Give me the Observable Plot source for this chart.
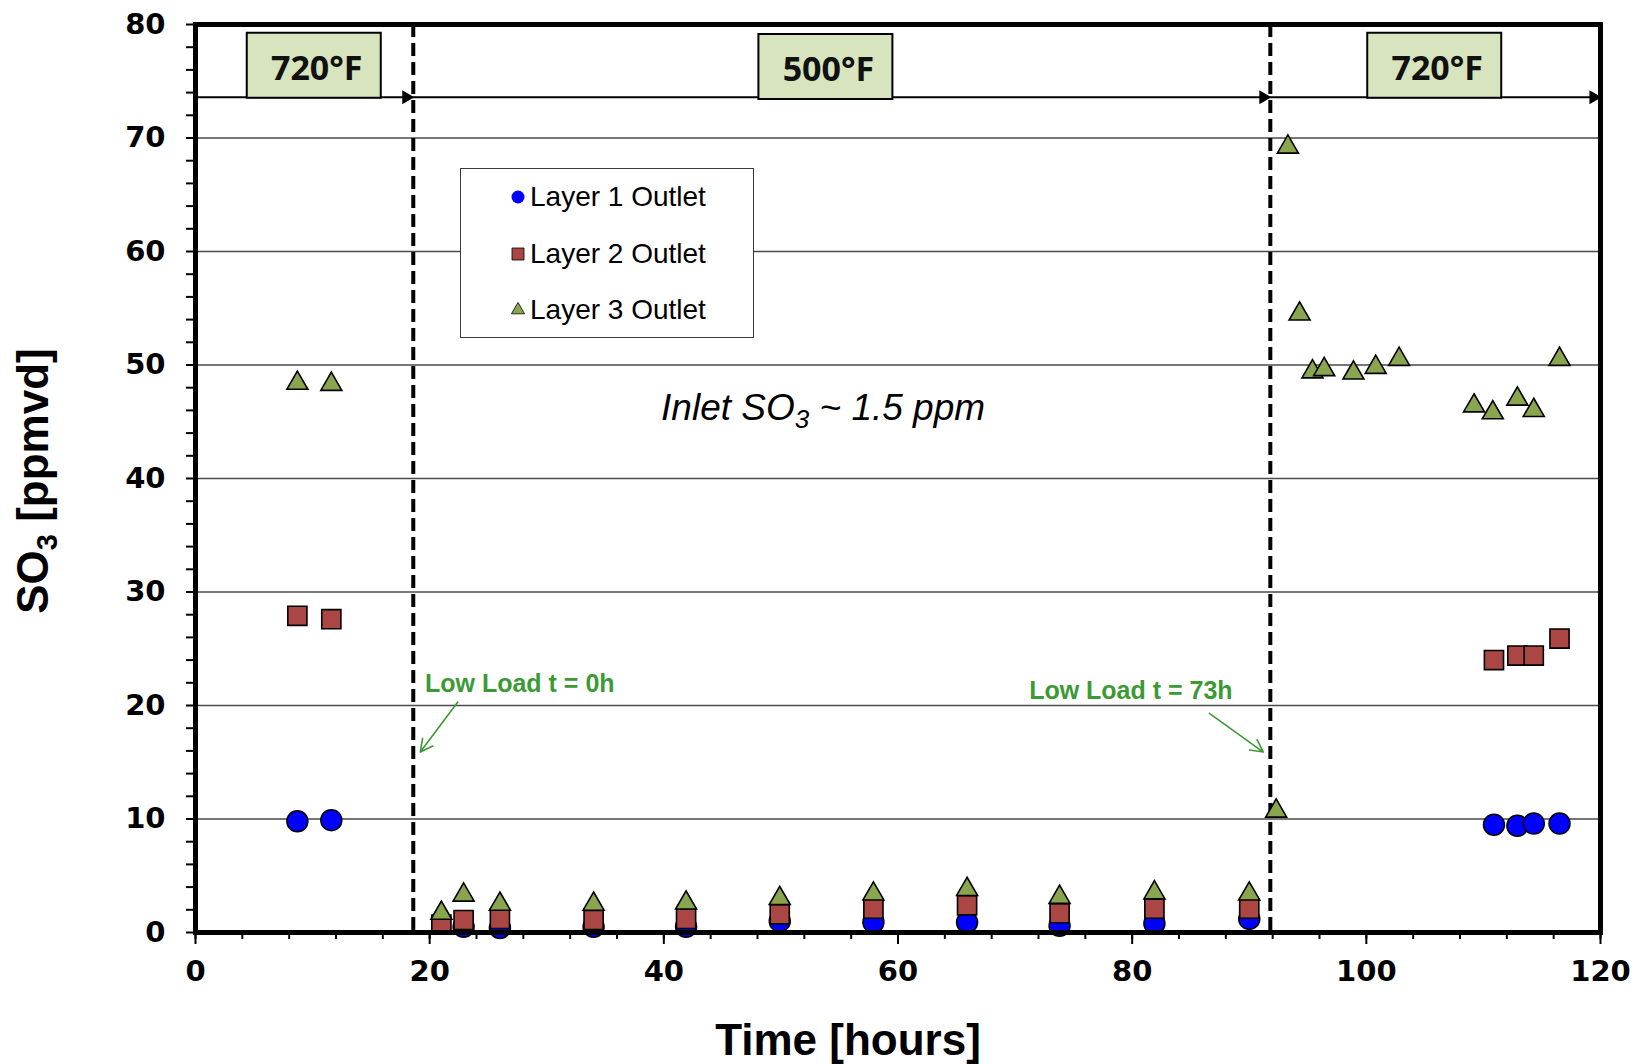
<!DOCTYPE html>
<html>
<head>
<meta charset="utf-8">
<script src="https://cdn.jsdelivr.net/npm/d3@7"></script>
<script src="https://cdn.jsdelivr.net/npm/@observablehq/plot@0.6"></script>
<style>
  body { margin: 0; background: #fff; }
  #wrap { position: relative; width: 1637px; height: 1064px; }
  #legend { position: absolute; left: 460px; top: 168px; width: 292px; height: 168px;
    border: 1px solid #3a3a3a; background: #fff;
    font-family: "Liberation Sans", Arial, sans-serif; font-size: 28px; color: #000; }
  .row { position: absolute; left: 48px; height: 30px; display: flex; align-items: center; }
  .row svg { margin-right: 3px; }
</style>
</head>
<body>
<div id="wrap"><div id="legend"></div></div>
<script>
// ---------- data ----------
const seriesNames = ["Layer 1 Outlet", "Layer 2 Outlet", "Layer 3 Outlet"];
const seriesColors = ["#0000FF", "#AA4643", "#89A54E"];
const seriesSymbols = ["circle", "square", "triangle"];

const timeL12 = [8.7, 11.6, 21.0, 22.9, 26.0, 34.0, 41.9, 49.9, 57.9, 65.9, 73.8, 81.9, 90.0, 110.9, 112.9, 114.3, 116.5];
const layer1  = [9.8, 9.9, null, 0.5, 0.4, 0.5, 0.5, 1.0, 0.9, 0.9, 0.6, 0.8, 1.2, 9.5, 9.4, 9.6, 9.6];
const layer2  = [27.9, 27.6, 0.7, 1.1, 1.2, 1.1, 1.2, 1.6, 2.1, 2.4, 1.7, 2.1, 2.1, 24.0, 24.4, 24.4, 25.9];

const timeL3 = [8.7, 11.6, 21.0, 22.9, 26.0, 34.0, 41.9, 49.9, 57.9, 65.9, 73.8, 81.9, 90.0,
                92.3, 93.3, 94.3, 95.4, 96.4, 98.9, 100.8, 102.8, 109.2, 110.8, 112.9, 114.3, 116.5];
const layer3 = [48.4, 48.3, 1.7, 3.3, 2.5, 2.5, 2.6, 3.0, 3.4, 3.8, 3.1, 3.5, 3.4,
                10.7, 69.2, 54.5, 49.4, 49.6, 49.3, 49.8, 50.5, 46.4, 45.8, 47.0, 46.0, 50.5];

const phaseBoundaries = [18.6, 91.8];
const arrowTips = [18.6, 91.8, 120];
const arrowLevel = 73.6;
const phaseLabels = ["720°F", "500°F", "720°F"];
const phaseLabelX = [10.1, 53.8, 105.8];
const phaseLabelY = [76.4, 76.3, 76.4];

const inletNote = {x: 53.6, y: 46.2, text: "Inlet SO3 ~ 1.5 ppm"};
const loadNotes = [
  {x: 19.6, y: 21.9, text: "Low Load t = 0h", ax1: 22.4, ay1: 20.3, ax2: 19.2, ay2: 15.9},
  {x: 71.2, y: 21.3, text: "Low Load t = 73h", ax1: 86.6, ay1: 19.3, ax2: 91.2, ay2: 15.9}
];

const yMajor = d3.range(0, 81, 10);
const yMinor = d3.range(0, 81, 2);
const xMajor = d3.range(0, 121, 20);
const xMinor = d3.range(0, 121, 4);
const gridLevels = d3.range(10, 71, 10);

// ---------- helpers ----------
const pts = (xs, ys) => xs.map((x, i) => ({x, y: ys[i]})).filter(d => d.y != null);
const boxSymbol = {draw(ctx) { ctx.rect(-67, -32.5, 134, 65); }};
const phases = phaseLabels.map((t, i) => ({t, x: phaseLabelX[i], y: phaseLabelY[i]}));
const green = "#3C9A34";

const chart = Plot.plot({
  width: 1637,
  height: 1064,
  marginLeft: 195,
  marginRight: 37,
  marginTop: 24,
  marginBottom: 132,
  x: {domain: [0, 120]},
  y: {domain: [0, 80]},
  style: {fontFamily: "DejaVu Sans", fontSize: "29px", fontWeight: "bold", color: "#000", background: "transparent"},
  marks: [
    Plot.gridY(gridLevels, {stroke: "#4a4a4a", strokeOpacity: 1, strokeWidth: 1.3}),
    Plot.ruleY([arrowLevel], {stroke: "#000", strokeWidth: 2}),
    Plot.dot(arrowTips, {x: d => d, y: () => arrowLevel, symbol: "triangle", r: 5.2, rotate: 90, fill: "#000", stroke: "none", dx: -7}),
    Plot.ruleX(phaseBoundaries, {stroke: "#000", strokeWidth: 4, strokeDasharray: "13,6"}),
    Plot.dot(pts(timeL12, layer1), {x: "x", y: "y", symbol: seriesSymbols[0], r: 10.5, fill: seriesColors[0], stroke: "#000", strokeWidth: 1.5}),
    Plot.dot(pts(timeL12, layer2), {x: "x", y: "y", symbol: seriesSymbols[1], r: 10.8, fill: seriesColors[1], stroke: "#000", strokeWidth: 1.6}),
    Plot.dot(pts(timeL3, layer3), {x: "x", y: "y", symbol: seriesSymbols[2], r: 7.8, fill: seriesColors[2], stroke: "#000", strokeWidth: 1.6}),
    Plot.dot(phases, {x: "x", y: "y", symbol: boxSymbol, fill: "#D7E4BD", stroke: "#000", strokeWidth: 2}),
    Plot.text(phases, {x: "x", y: "y", text: "t", dx: 3, dy: 4, fontFamily: "Open Sans", fontWeight: 700, fontSize: 34, fill: "#111"}),
    Plot.text([inletNote], {x: "x", y: "y", text: "text", fontFamily: "Liberation Sans", fontStyle: "italic", fontWeight: "normal", fontSize: 37, fill: "#000"}),
    Plot.text(loadNotes, {x: "x", y: "y", text: "text", textAnchor: "start", fontFamily: "Liberation Sans", fontWeight: "bold", fontSize: 25, fill: green}),
    Plot.arrow(loadNotes, {x1: "ax1", y1: "ay1", x2: "ax2", y2: "ay2", stroke: green, strokeWidth: 1.6, headLength: 13, headAngle: 55}),
    Plot.frame({stroke: "#000", strokeWidth: 5}),
    Plot.axisY(yMinor, {tickSize: 9, strokeWidth: 2, fill: "none", label: null}),
    Plot.axisY(yMajor, {tickSize: 0, tickPadding: 30, label: null}),
    Plot.axisX(xMinor, {tickSize: 7, strokeWidth: 2, fill: "none", label: null}),
    Plot.axisX(xMajor, {tickSize: 12, strokeWidth: 2, fill: "none", label: null}),
    Plot.axisX(xMajor, {tickSize: 0, tickPadding: 28, label: null})
  ]
});

document.getElementById("wrap").prepend(chart);
const svg = d3.select(chart);

// subscript for inlet note
svg.selectAll("text").filter(function() { return this.textContent === inletNote.text; }).each(function() {
  const t = d3.select(this);
  t.text(null);
  t.append("tspan").text("Inlet SO");
  t.append("tspan").attr("dy", 8).attr("font-size", 26).text("3");
  t.append("tspan").attr("dy", -8).text(" ~ 1.5 ppm");
});

// axis titles
const yl = svg.append("text")
  .attr("transform", "translate(48,481) rotate(-90)")
  .attr("text-anchor", "middle")
  .attr("font-family", "Liberation Sans, Arial, sans-serif")
  .attr("font-weight", "bold").attr("font-size", 44).attr("fill", "#000");
yl.append("tspan").text("SO");
yl.append("tspan").attr("dy", 9).attr("font-size", 29).text("3");
yl.append("tspan").attr("dy", -9).text(" [ppmvd]");

svg.append("text")
  .attr("x", 848).attr("y", 1055)
  .attr("text-anchor", "middle")
  .attr("font-family", "Liberation Sans, Arial, sans-serif")
  .attr("font-weight", "bold").attr("font-size", 44).attr("fill", "#000")
  .text("Time [hours]");

// legend
const legend = d3.select("#legend");
const legendSizes = [{type: d3.symbolCircle, size: Math.PI * 6.5 * 6.5}, {type: d3.symbolSquare, size: 144}, {type: d3.symbolTriangle, size: 75}];
seriesNames.forEach((name, i) => {
  const row = legend.append("div").attr("class", "row").style("top", (13 + i * 56.5) + "px");
  const s = row.append("svg").attr("width", 18).attr("height", 18);
  s.append("path").attr("transform", "translate(9,9)")
    .attr("d", d3.symbol(legendSizes[i].type, legendSizes[i].size)())
    .attr("fill", seriesColors[i]).attr("stroke", "#000").attr("stroke-width", i === 0 ? 0 : 0.8);
  row.append("span").text(name);
});
</script>
</body>
</html>
